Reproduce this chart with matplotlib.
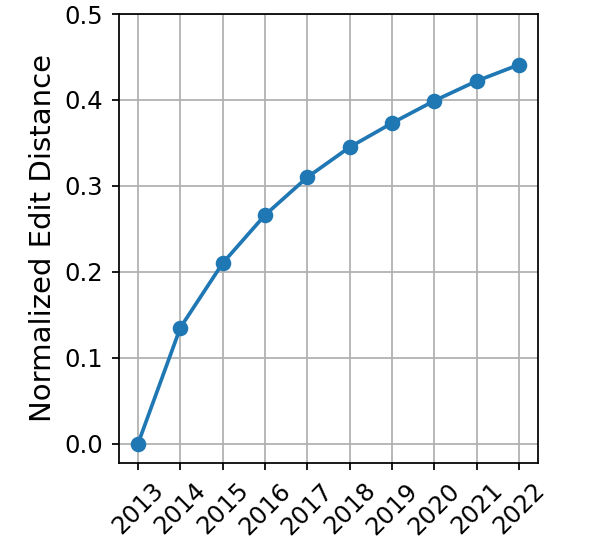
import numpy as np
import matplotlib.pyplot as plt

# Data
years = [2013, 2014, 2015, 2016, 2017, 2018, 2019, 2020, 2021, 2022]
dist = [0.0, 0.135, 0.21, 0.266, 0.31, 0.345, 0.373, 0.399, 0.422, 0.441]

dpi = 140
fig = plt.figure(figsize=(598 / dpi, 540 / dpi), dpi=dpi)
ax = fig.add_axes([119 / 598, 1 - 462.5 / 540, (538 - 119) / 598, (462.5 - 14) / 540])

ax.plot(years, dist, '-o', color='#1f77b4', linewidth=1.9, markersize=7)
ax.set_ylim(-0.022, 0.5)
ax.set_xticks(years)
ax.set_xticklabels([str(y) for y in years], rotation=45, fontsize=12.5)
ax.set_yticks([0.0, 0.1, 0.2, 0.3, 0.4, 0.5])
ax.tick_params(axis='y', labelsize=12.5)
ax.tick_params(length=3.6, pad=4.6, width=0.9)
for s in ax.spines.values():
    s.set_linewidth(0.9)
ax.set_ylabel('Normalized Edit Distance', fontsize=15)
ax.grid(True, linewidth=0.9)

fig.savefig('out.png', dpi=dpi)
